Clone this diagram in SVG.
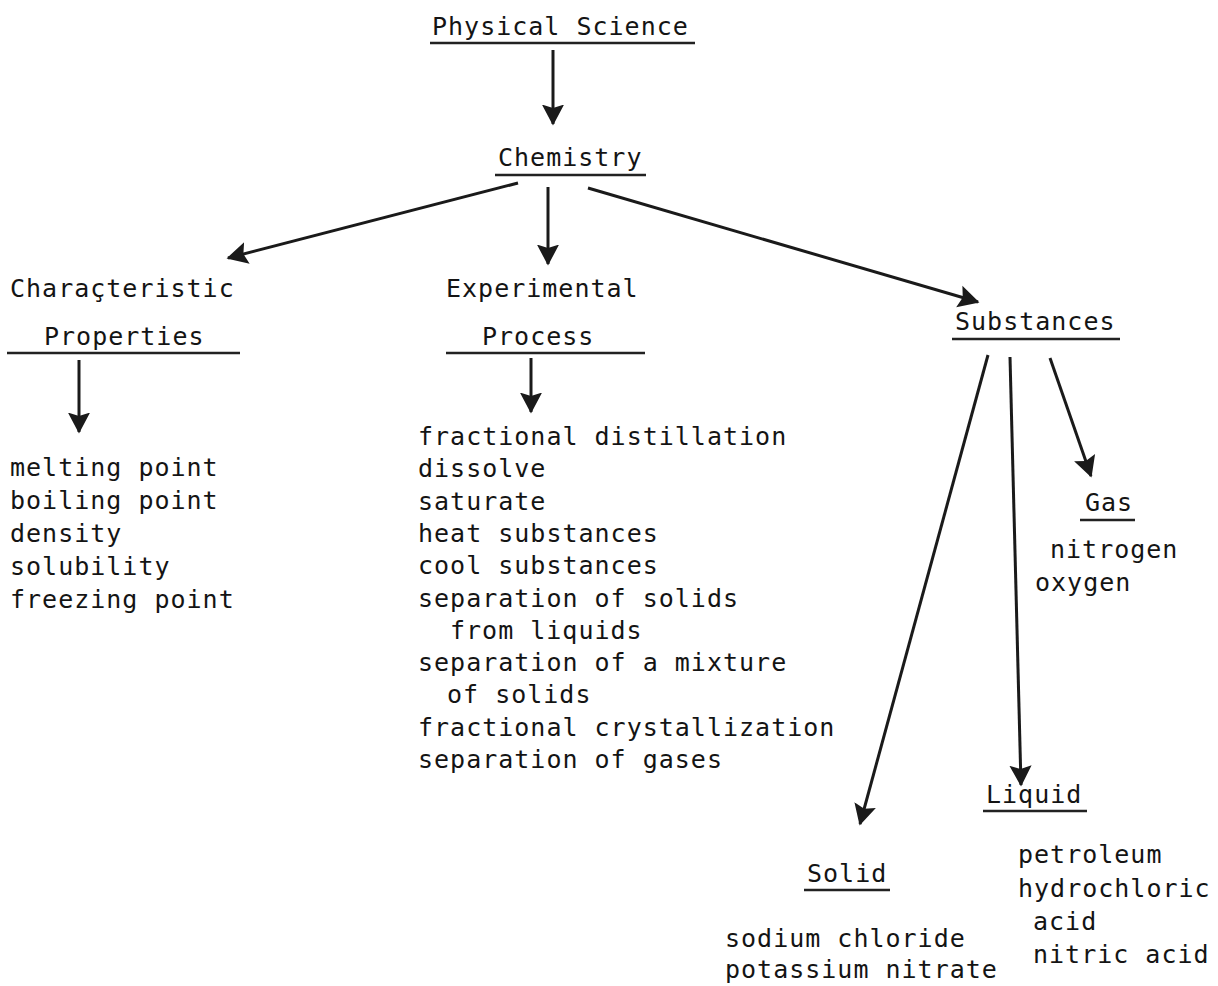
<svg xmlns="http://www.w3.org/2000/svg" width="1218" height="986" viewBox="0 0 1218 986">
<style>
text{font-family:"DejaVu Sans Mono","Liberation Mono",monospace;font-size:25px;letter-spacing:1px;fill:#141414}
.ul{stroke:#222;stroke-width:2.5}
.c{stroke:#1a1a1a;stroke-width:3;fill:none;marker-end:url(#ah)}
</style>
<defs>
<marker id="ah" markerWidth="9" markerHeight="9" refX="6.5" refY="4.5" orient="auto" markerUnits="strokeWidth">
<path d="M0,0.8 L7,4.5 L0,8.2 L1.2,4.5 Z" fill="#1a1a1a"/>
</marker>
</defs>
<rect width="1218" height="986" fill="#fff"/>
<g id="connectors">
<line class="c" x1="553" y1="50" x2="553" y2="124"/>
<line class="c" x1="518" y1="183" x2="228" y2="258"/>
<line class="c" x1="548" y1="187" x2="548" y2="264"/>
<line class="c" x1="588" y1="188" x2="978" y2="302"/>
<line class="c" x1="79" y1="360" x2="79" y2="432"/>
<line class="c" x1="531" y1="358" x2="531" y2="412"/>
<line class="c" x1="988" y1="355" x2="860" y2="824"/>
<line class="c" x1="1010" y1="357" x2="1021" y2="785"/>
<line class="c" x1="1050" y1="358" x2="1091" y2="476"/>
</g>
<g id="physical-science">
<text x="432" y="35">Physical Science</text>
<line class="ul" x1="430" y1="43" x2="695" y2="43"/>
</g>
<g id="chemistry">
<text x="498" y="166">Chemistry</text>
<line class="ul" x1="495" y1="175" x2="646" y2="175"/>
</g>
<g id="characteristic-properties">
<text x="10" y="297">Charaçteristic</text>
<text x="44" y="345">Properties</text>
<line class="ul" x1="7" y1="353" x2="240" y2="353"/>
</g>
<g id="properties-list">
<text x="10" y="476">melting point</text>
<text x="10" y="509">boiling point</text>
<text x="10" y="542">density</text>
<text x="10" y="575">solubility</text>
<text x="10" y="608">freezing point</text>
</g>
<g id="experimental-process">
<text x="446" y="297">Experimental</text>
<text x="482" y="345">Process</text>
<line class="ul" x1="446" y1="353" x2="645" y2="353"/>
</g>
<g id="process-list">
<text x="418" y="445">fractional distillation</text>
<text x="418" y="477">dissolve</text>
<text x="418" y="510">saturate</text>
<text x="418" y="542">heat substances</text>
<text x="418" y="574">cool substances</text>
<text x="418" y="607">separation of solids</text>
<text x="450" y="639">from liquids</text>
<text x="418" y="671">separation of a mixture</text>
<text x="447" y="703">of solids</text>
<text x="418" y="736">fractional crystallization</text>
<text x="418" y="768">separation of gases</text>
</g>
<g id="substances">
<text x="955" y="330">Substances</text>
<line class="ul" x1="952" y1="339" x2="1120" y2="339"/>
</g>
<g id="gas">
<text x="1085" y="511">Gas</text>
<line class="ul" x1="1080" y1="520" x2="1135" y2="520"/>
<text x="1050" y="558">nitrogen</text>
<text x="1035" y="591">oxygen</text>
</g>
<g id="liquid">
<text x="986" y="803">Liquid</text>
<line class="ul" x1="983" y1="811" x2="1087" y2="811"/>
<text x="1018" y="863">petroleum</text>
<text x="1018" y="897">hydrochloric</text>
<text x="1033" y="930">acid</text>
<text x="1033" y="963">nitric acid</text>
</g>
<g id="solid">
<text x="807" y="882">Solid</text>
<line class="ul" x1="804" y1="890" x2="890" y2="890"/>
<text x="725" y="947">sodium chloride</text>
<text x="725" y="978">potassium nitrate</text>
</g>
</svg>
